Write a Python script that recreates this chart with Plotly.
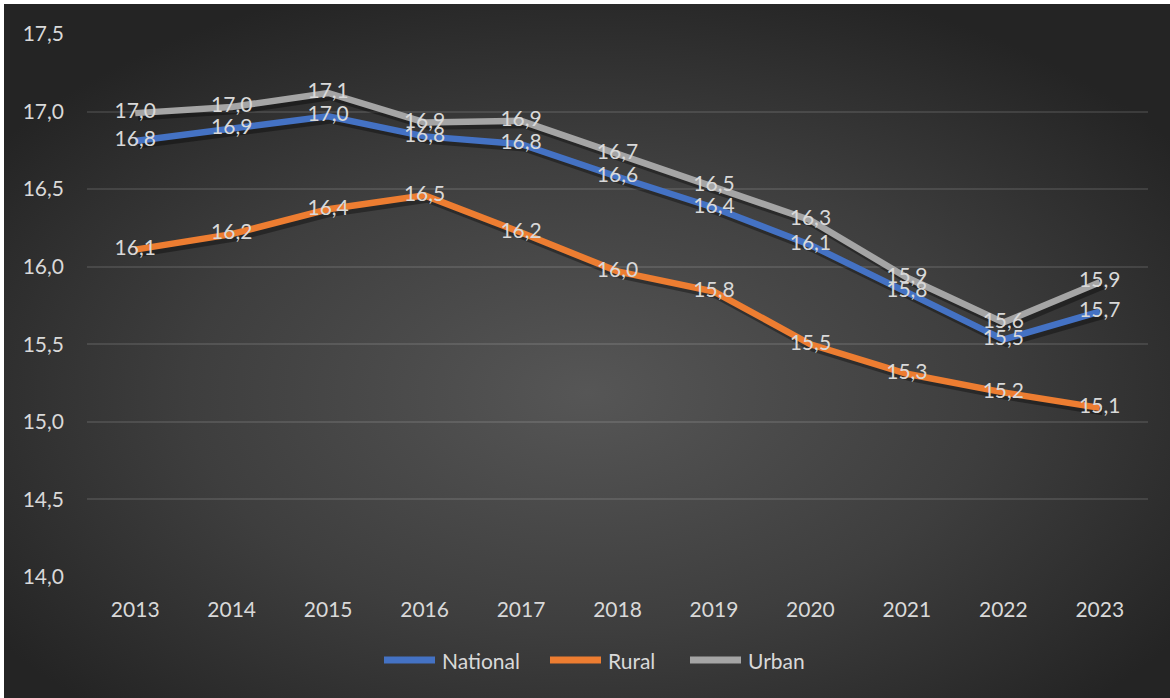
import base64
import plotly.graph_objects as go

# Yearly series
years = [2013, 2014, 2015, 2016, 2017, 2018, 2019, 2020, 2021, 2022, 2023]
national = [16.81, 16.89, 16.97, 16.84, 16.79, 16.58, 16.38, 16.14, 15.84, 15.53, 15.71]
rural = [16.11, 16.21, 16.37, 16.46, 16.22, 15.97, 15.84, 15.50, 15.31, 15.19, 15.09]
urban = [16.99, 17.03, 17.12, 16.93, 16.94, 16.73, 16.52, 16.30, 15.93, 15.64, 15.90]

series_names = ["National", "Rural", "Urban"]
series_values = [national, rural, urban]
series_colors = ["#4472C4", "#ED7D31", "#A5A5A5"]

y_ticks = [14.0, 14.5, 15.0, 15.5, 16.0, 16.5, 17.0, 17.5]
y_tick_text = [f"{v:.1f}".replace(".", ",") for v in y_ticks]

FONT = "Lato, 'Open Sans', sans-serif"
TEXT_COLOR = "#D9D9D9"
FS = 21

W, H = 1170, 698
L, R, T, B = 87, 22, 34, 121
plot_w = W - L - R
plot_h = H - T - B


def fmt(v):
    return f"{v:.1f}".replace(".", ",")


def px_x(px):
    return (px - L) / plot_w


def px_y(py):
    return (H - B - py) / plot_h


fig = go.Figure()

# soft drop shadow under each line
for vals in series_values:
    fig.add_trace(go.Scatter(
        x=[y + 0.03 for y in years], y=[v - 0.022 for v in vals],
        mode="lines", line=dict(color="rgba(0,0,0,0.35)", width=8),
        hoverinfo="skip", showlegend=False,
    ))

# the lines
for name, vals, col in zip(series_names, series_values, series_colors):
    fig.add_trace(go.Scatter(
        x=years, y=vals, name=name, mode="lines",
        line=dict(color=col, width=6.5), showlegend=False,
    ))

# value labels, drawn above every line
for vals in series_values:
    fig.add_trace(go.Scatter(
        x=years, y=vals, mode="text",
        text=[fmt(v) for v in vals], textposition="middle center",
        textfont=dict(family=FONT, size=FS, color=TEXT_COLOR),
        hoverinfo="skip", showlegend=False,
    ))

# legend row below the axis: long line swatch followed by the series name
legend_starts = [381, 547, 687]
legend_y = 660
shapes = []
annotations = []
for name, col, x0 in zip(series_names, series_colors, legend_starts):
    shapes.append(dict(
        type="line", xref="paper", yref="paper",
        x0=px_x(x0 + 3), x1=px_x(x0 + 54), y0=px_y(legend_y), y1=px_y(legend_y),
        line=dict(color=col, width=7),
    ))
    annotations.append(dict(
        text=name, xref="paper", yref="paper",
        x=px_x(x0 + 59), y=px_y(legend_y), xanchor="left", yanchor="middle",
        showarrow=False, font=dict(family=FONT, size=FS, color=TEXT_COLOR),
    ))

# radial-gradient chart background
svg = (
    f'<svg xmlns="http://www.w3.org/2000/svg" width="{W - 4}" height="{H - 4}" '
    f'viewBox="0 0 {W - 4} {H - 4}" preserveAspectRatio="none">'
    '<defs><radialGradient id="g" cx="50%" cy="56%" r="62%" '
    'gradientUnits="objectBoundingBox">'
    '<stop offset="0" stop-color="#565656"/>'
    '<stop offset="0.55" stop-color="#3e3e3e"/>'
    '<stop offset="1" stop-color="#242424"/>'
    '</radialGradient></defs>'
    f'<rect x="0" y="0" width="{W - 4}" height="{H - 4}" fill="url(#g)"/></svg>'
)
bg_src = "data:image/svg+xml;base64," + base64.b64encode(svg.encode()).decode()

fig.update_layout(
    width=W, height=H,
    margin=dict(l=L, r=R, t=T, b=B),
    paper_bgcolor="white",
    plot_bgcolor="rgba(0,0,0,0)",
    font=dict(family=FONT, size=FS, color=TEXT_COLOR),
    images=[dict(
        source=bg_src, xref="paper", yref="paper",
        x=px_x(4), y=px_y(4),
        sizex=(W - 4) / plot_w, sizey=(H - 4) / plot_h,
        xanchor="left", yanchor="top", sizing="stretch", layer="below",
    )],
    shapes=shapes,
    annotations=annotations,
    xaxis=dict(
        range=[2012.5, 2023.5], tickmode="array", tickvals=years,
        ticktext=[str(y) for y in years], showgrid=False, zeroline=False,
        showline=False, ticks="", ticklabelstandoff=18,
        tickfont=dict(family=FONT, size=FS, color=TEXT_COLOR),
    ),
    yaxis=dict(
        range=[14.0, 17.5], tickmode="array", tickvals=y_ticks,
        ticktext=y_tick_text, showgrid=True,
        gridcolor="rgba(255,255,255,0.11)", gridwidth=1.5,
        zeroline=False, showline=False, ticks="", ticklabelstandoff=22,
        tickfont=dict(family=FONT, size=FS, color=TEXT_COLOR),
    ),
    showlegend=False,
)

fig.write_html("out.html")
